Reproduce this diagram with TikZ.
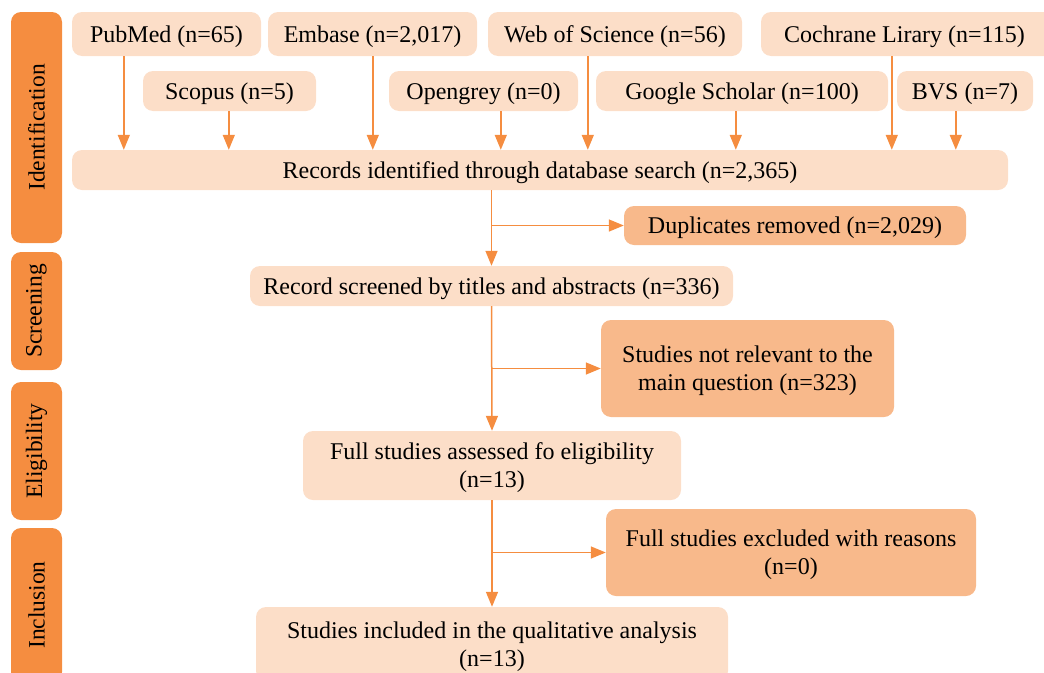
\documentclass[tikz,border=0pt]{standalone}
\usepackage{fontspec}
\setmainfont{Liberation Serif}
\usetikzlibrary{arrows.meta}
\definecolor{darkor}{HTML}{F58D40}
\definecolor{lightor}{HTML}{FCDEC8}
\definecolor{midor}{HTML}{F8B98B}
\tikzset{
  box/.style={fill=lightor, rounded corners=10pt, inner sep=0pt, align=center, text=black, text depth=0pt, font=\fontsize{24}{28}\selectfont},
  midbox/.style={box, fill=midor},
  side/.style={fill=darkor, rounded corners=10pt, inner sep=0pt, align=center, text=black, rotate=90, font=\fontsize{23.5}{28}\selectfont},
  arr/.style={draw=darkor, line width=1.5pt, -{Triangle[length=15pt,width=12pt]}},
}
\newcommand\mybox[7]{\node[#1,minimum width={(#5-#4)*1pt},minimum height={(#7-#6)*1pt}] (#2) at ({(#4+#5)/2},{-(#6+#7)/2}) {#3};}
\newcommand\myside[5]{\node[side,minimum width={(#5-#4)*1pt},minimum height=51pt] (#1) at (36.5,{-(#4+#5)/2}) {#2};}
\newcommand\feed[2]{\draw[arr] ([xshift=#2pt]#1.south west) coordinate (#1-f) -- (#1-f |- records.north);}
\begin{document}
\begin{tikzpicture}[x=1pt,y=1pt]
\useasboundingbox (0,0) rectangle (1044,-672);
% phase labels
\myside{ident}{Identification}{}{12}{243}
\myside{screen}{Screening}{}{252}{370}
\myside{elig}{Eligibility}{}{382}{520}
\myside{inclus}{Inclusion}{}{528}{682}
% sources
\mybox{box}{pubmed}{PubMed (n=65)}{72}{261}{12}{56}
\mybox{box}{embase}{Embase (n=2,017)}{268}{477}{12}{56}
\mybox{box}{wos}{Web of Science (n=56)}{488}{742}{12}{56}
\mybox{box}{cochrane}{\hspace*{-8pt}Cochrane Lirary (n=115)}{761}{1056}{12}{56}
\mybox{box}{scopus}{Scopus (n=5)}{143}{316}{71}{111}
\mybox{box}{opengrey}{Opengrey (n=0)}{389}{578}{71}{111}
\mybox{box}{gscholar}{Google Scholar (n=100)}{596}{888}{71}{111}
\mybox{box}{bvs}{BVS (n=7)}{897}{1033}{71}{111}
% flow
\mybox{box}{records}{Records identified through database search (n=2,365)}{72}{1008}{150}{190}
\mybox{midbox}{dup}{Duplicates removed (n=2,029)}{624}{966}{206}{245}
\mybox{box}{screened}{Record screened by titles and abstracts (n=336)}{250}{733}{266}{306}
\mybox{midbox}{notrel}{Studies not relevant to the\\main question (n=323)}{601}{894}{320}{417}
\mybox{box}{full}{Full studies assessed fo eligibility\\(n=13)}{303}{681}{431}{500}
\mybox{midbox}{excl}{Full studies excluded with reasons\\(n=0)}{606}{976}{509}{596}
\mybox{box}{incl}{Studies included in the qualitative analysis\\(n=13)}{256}{728}{607}{681}
% feeds
\feed{pubmed}{52}
\feed{embase}{105}
\feed{wos}{100}
\feed{cochrane}{131}
\feed{scopus}{86}
\feed{opengrey}{112}
\feed{gscholar}{140}
\feed{bvs}{59}
% main flow
\draw[arr] (screened.north |- records.south) -- (screened.north);
\draw[arr] (screened.north |- dup.west) -- (dup.west);
\draw[arr] (screened.south) -- (full.north);
\draw[arr] (screened.south |- notrel.west) -- (notrel.west);
\draw[arr] (full.south) -- (incl.north);
\draw[arr] (full.south |- excl.west) -- (excl.west);
\end{tikzpicture}
\end{document}
